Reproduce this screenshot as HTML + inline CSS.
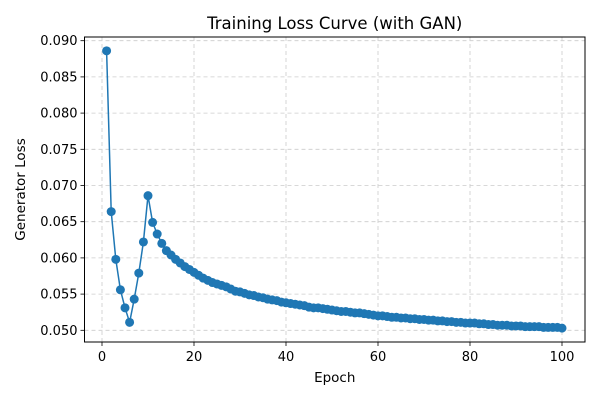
<!DOCTYPE html>
<html><head><meta charset="utf-8"><style>
body{margin:0;background:#fff;font-family:"Liberation Sans","DejaVu Sans",sans-serif}
svg text{font-family:"DejaVu Sans","Liberation Sans",sans-serif}
</style></head><body>
<svg id="chart" width="600" height="400" xmlns="http://www.w3.org/2000/svg"></svg>
<script>
const epochs = Array.from({length:100},(_,i)=>i+1);
const genLoss = [
0.0886,0.0664,0.0598,0.0556,0.0531,0.0511,0.0543,0.0579,0.0622,0.0686,
0.0649,0.0633,0.0620,0.0610,0.0604,0.0598,0.0593,0.0588,0.0584,0.0580,
0.0576,0.0572,0.0569,0.0566,0.0564,0.0562,0.0560,0.0557,0.0554,0.0553,
0.0551,0.0549,0.0548,0.0546,0.0545,0.0543,0.0542,0.0541,0.0539,0.0538,
0.0537,0.0536,0.0535,0.0534,0.0532,0.0531,0.0531,0.0530,0.0529,0.0528,
0.0527,0.0526,0.0526,0.0525,0.0524,0.0524,0.0523,0.0522,0.0521,0.0520,
0.0520,0.0519,0.0518,0.0518,0.0517,0.0517,0.0516,0.0516,0.0515,0.0515,
0.0514,0.0514,0.0513,0.0513,0.0512,0.0512,0.0511,0.0511,0.0510,0.0510,
0.0510,0.0509,0.0509,0.0508,0.0508,0.0507,0.0507,0.0507,0.0506,0.0506,
0.0506,0.0505,0.0505,0.0505,0.0505,0.0504,0.0504,0.0504,0.0504,0.0503];
const yTicks = [0.050,0.055,0.060,0.065,0.070,0.075,0.080,0.085,0.090];
const xTicks = [0,20,40,60,80,100];

const L=84.5,R=585,T=37,B=342;
const xs=v=>102+v*4.6;
const ys=v=>40.7+(0.090-v)/0.005*36.2;
const svg=document.getElementById('chart');
const NS='http://www.w3.org/2000/svg';
function mk(tag,attrs,parent){const e=document.createElementNS(NS,tag);for(const k in attrs)e.setAttribute(k,attrs[k]);(parent||svg).appendChild(e);return e;}

yTicks.forEach(v=>{
  const g=mk('line',{x1:L,x2:R,y1:ys(v),y2:ys(v),stroke:'#cccccc','stroke-dasharray':'4,3','stroke-width':0.8});
  
  
  mk('line',{x1:L-4,x2:L,y1:ys(v),y2:ys(v),stroke:'#000','stroke-width':0.8});
  const t=mk('text',{x:L-7,y:ys(v)+4.5,'text-anchor':'end','font-size':13,fill:'#000'});
  t.textContent=v.toFixed(3);
  
  
});
xTicks.forEach(v=>{
  const g=mk('line',{x1:xs(v),x2:xs(v),y1:T,y2:B,stroke:'#cccccc','stroke-dasharray':'4,3','stroke-width':0.8});
  
  
  mk('line',{x1:xs(v),x2:xs(v),y1:B,y2:B+4,stroke:'#000','stroke-width':0.8});
  const t=mk('text',{x:xs(v),y:B+19,'text-anchor':'middle','font-size':13,fill:'#000'});
  t.textContent=v;
  
  
});

const line=mk('polyline',{points:epochs.map((e,i)=>xs(e)+','+ys(genLoss[i])).join(' '),fill:'none',stroke:'#1f77b4','stroke-width':1.5});


epochs.forEach((e,i)=>{
  const c=mk('circle',{cx:xs(e),cy:ys(genLoss[i]),r:4.5,fill:'#1f77b4'});
  
  
});

const frame=mk('rect',{x:L,y:T,width:R-L,height:B-T,fill:'none',stroke:'#000','stroke-width':1});



const title=mk('text',{x:(L+R)/2,y:29,'text-anchor':'middle','font-size':16.5,fill:'#000'});
title.textContent='Training Loss Curve (with GAN)';


const xl=mk('text',{x:(L+R)/2,y:382,'text-anchor':'middle','font-size':13.5,fill:'#000'});
xl.textContent='Epoch';


const yl=mk('text',{x:0,y:0,'text-anchor':'middle','font-size':13.5,fill:'#000',transform:'translate(25,'+((T+B)/2)+') rotate(-90)'});
yl.textContent='Generator Loss';


</script>
</body></html>
